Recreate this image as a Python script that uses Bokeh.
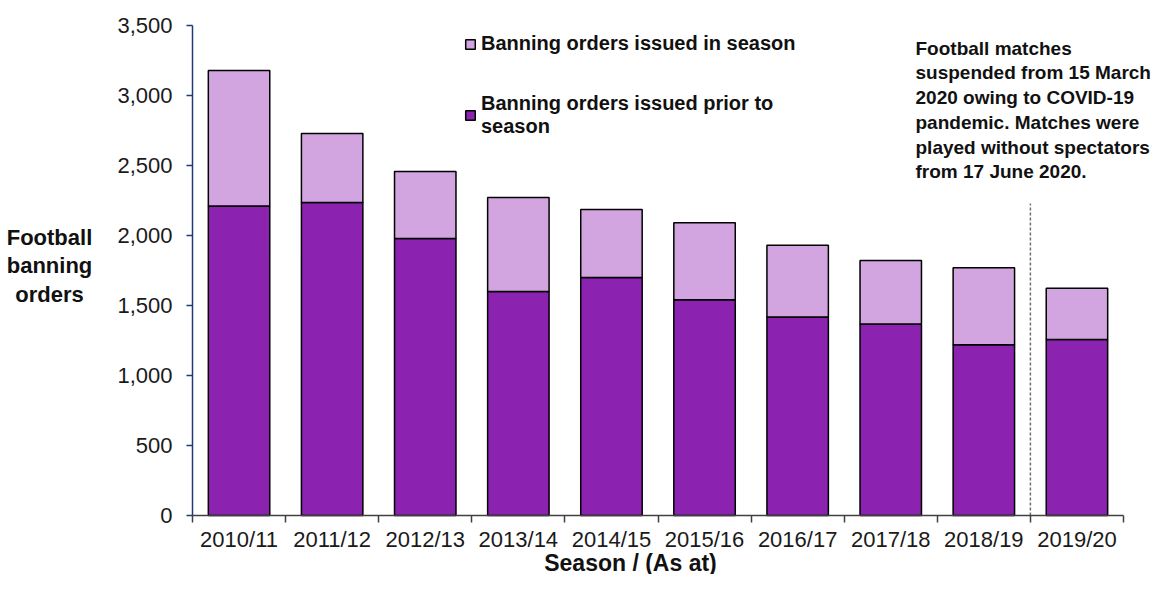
from bokeh.plotting import figure
from bokeh.models import (ColumnDataSource, FixedTicker, NumeralTickFormatter, Range1d,
                          Legend, LegendItem, Label)
from bokeh.embed import file_html
from bokeh.resources import INLINE

seasons = ["2010/11", "2011/12", "2012/13", "2013/14", "2014/15",
           "2015/16", "2016/17", "2017/18", "2018/19", "2019/20"]
prior_to_season = [2211, 2236, 1979, 1600, 1700, 1541, 1417, 1367, 1219, 1257]
in_season = [968, 493, 478, 671, 486, 550, 514, 454, 550, 367]
y_ticks = [0, 500, 1000, 1500, 2000, 2500, 3000, 3500]
Y_MAX = 3500

FONT = "Liberation Sans"
DARK = "#8B22B0"
LIGHT = "#D2A5E0"

# layout (pixels): the frame covers the whole figure, axes are fixed inside it
W, H = 1154, 574
AX_LEFT, AX_RIGHT, AX_TOP, AX_BOTTOM = 192, 1123, 25, 515
n = len(seasons)
px_x = (AX_RIGHT - AX_LEFT) / n
px_y = (AX_BOTTOM - AX_TOP) / Y_MAX
x_range = Range1d(-AX_LEFT / px_x, n + (W - AX_RIGHT) / px_x)
y_range = Range1d(-(H - AX_BOTTOM) / px_y, Y_MAX + AX_TOP / px_y)


def dx(px):
    return (px - AX_LEFT) / px_x


def dy(py):
    return (AX_BOTTOM - py) / px_y


xs = [i + 0.5 for i in range(n)]
src = ColumnDataSource(dict(x=xs, prior=prior_to_season, inseason=in_season))

p = figure(width=W, height=H, output_backend="svg", toolbar_location=None,
           x_range=x_range, y_range=y_range,
           min_border_left=0, min_border_right=0, min_border_top=0, min_border_bottom=0)
p.outline_line_color = None
p.grid.grid_line_color = None

rs = p.vbar_stack(["prior", "inseason"], x="x", width=0.66, source=src,
                  color=[DARK, LIGHT], line_color="black", line_width=1.5)

# x axis: labels at centres, ticks between categories
p.xaxis.fixed_location = 0
p.xaxis.bounds = (0, n)
p.xaxis.ticker = FixedTicker(ticks=xs, minor_ticks=list(range(n + 1)))
p.xaxis.major_label_overrides = {x: s for x, s in zip(xs, seasons)}
p.xaxis.major_tick_line_color = None
p.xaxis.major_tick_out = 0
p.xaxis.major_tick_in = 0
p.xaxis.minor_tick_out = 7
p.xaxis.minor_tick_in = 0
p.xaxis.minor_tick_line_color = "#404040"
p.xaxis.minor_tick_line_width = 1.5
p.xaxis.axis_line_color = "#404040"
p.xaxis.axis_line_width = 1.5
p.xaxis.major_label_standoff = 4
p.xaxis.major_label_text_font = FONT
p.xaxis.major_label_text_font_size = "22px"
p.xaxis.major_label_text_color = "#1a1a1a"

# y axis
p.yaxis.fixed_location = 0
p.yaxis.bounds = (0, Y_MAX)
p.yaxis.ticker = FixedTicker(ticks=y_ticks)
p.yaxis.formatter = NumeralTickFormatter(format="0,0")
p.yaxis.axis_line_color = "#203A78"
p.yaxis.axis_line_width = 1.5
p.yaxis.major_tick_line_color = "#203A78"
p.yaxis.major_tick_line_width = 1.5
p.yaxis.major_tick_out = 6
p.yaxis.major_tick_in = 0
p.yaxis.minor_tick_line_color = None
p.yaxis.major_label_standoff = 14
p.yaxis.major_label_text_font = FONT
p.yaxis.major_label_text_font_size = "22px"
p.yaxis.major_label_text_color = "#1a1a1a"

# axis titles
p.add_layout(Label(x=dx(49), y=dy(265), text="Football\nbanning\norders", text_font=FONT,
                   text_font_style="bold", text_font_size="22px", text_align="center",
                   text_baseline="middle", text_line_height=1.14, text_color="#111111"))
p.add_layout(Label(x=dx(630), y=dy(562), text="Season / (As at)", text_font=FONT,
                   text_font_style="bold", text_font_size="23px", text_align="center",
                   text_baseline="middle", text_color="#111111"))

# covid annotation
p.add_layout(Label(x=dx(915), y=dy(37), text="Football  matches\nsuspended from 15 March\n2020 owing to COVID-19\npandemic. Matches were\nplayed without spectators\nfrom 17 June 2020.",
                   text_font=FONT, text_font_style="bold", text_font_size="19px",
                   text_align="left", text_baseline="top", text_line_height=1.18,
                   text_color="#111111"))

# dashed separator before 2019/20
p.segment(x0=[n - 1], y0=[0], x1=[n - 1], y1=[dy(203)], line_color="#707070",
          line_dash="3 2", line_width=1.5)

legend = Legend(items=[LegendItem(label="Banning orders issued in season", renderers=[rs[1]]),
                       LegendItem(label="Banning orders issued prior to\nseason", renderers=[rs[0]])],
                location=(464, 436), orientation="vertical",
                glyph_width=12, glyph_height=12, label_standoff=5, spacing=37,
                padding=0, margin=0, border_line_color=None, background_fill_alpha=0,
                label_text_font=FONT, label_text_font_style="bold",
                label_text_font_size="20px", label_text_color="#111111")
p.add_layout(legend)

open("out.html", "w").write(file_html(p, INLINE))
